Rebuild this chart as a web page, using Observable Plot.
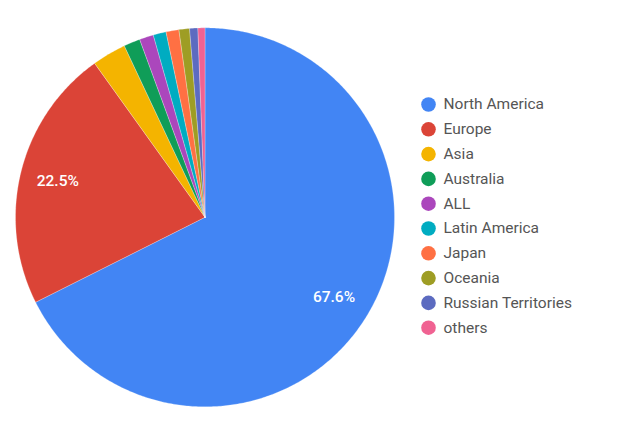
<!DOCTYPE html>
<html>
<head>
<meta charset="utf-8">
<script src="https://cdn.jsdelivr.net/npm/d3@7"></script>
<script src="https://cdn.jsdelivr.net/npm/@observablehq/plot@0.6"></script>
<style>
  html, body { margin: 0; padding: 0; background: #fff; }
  #chart { width: 640px; height: 426px; }
  svg { font-family: Roboto, "Noto Sans", sans-serif; }
</style>
</head>
<body>
<div id="chart"></div>
<script>
// Data
const regions = ["North America", "Europe", "Asia", "Australia", "ALL", "Latin America", "Japan", "Oceania", "Russian Territories", "others"];
const shares = [67.6, 22.5, 2.9, 1.4, 1.2, 1.1, 1.1, 0.9, 0.7, 0.6];
const colors = ["#4285F4", "#DB4437", "#F4B400", "#0F9D58", "#AB47BC", "#00ACC1", "#FF7043", "#9E9D24", "#5C6BC0", "#F06292"];

// Layout
const W = 640, H = 426;
const cx = 204.5, cy = 216.8, R = 189.5;
const labelR = 0.8 * R;
const legendX = 428, legendY0 = 104, legendStep = 24.8;

const rows = regions.map((name, i) => ({name, value: shares[i], i}));
const arcs = d3.pie().sort(null).value(d => d.value)(rows);

// Slice polygons
const polyPts = [];
for (const a of arcs) {
  const n = Math.max(2, Math.ceil((a.endAngle - a.startAngle) / 0.01));
  polyPts.push({name: a.data.name, x: cx, y: cy});
  for (let k = 0; k <= n; k++) {
    const t = a.startAngle + (a.endAngle - a.startAngle) * k / n;
    polyPts.push({name: a.data.name, x: cx + R * Math.sin(t), y: cy - R * Math.cos(t)});
  }
  polyPts.push({name: a.data.name, x: cx, y: cy});
}

// Labels for big slices
const labels = arcs.filter(a => a.data.value > 5).map(a => {
  const m = (a.startAngle + a.endAngle) / 2;
  return {text: a.data.value.toFixed(1) + "%", x: cx + labelR * Math.sin(m), y: cy - labelR * Math.cos(m)};
});

const legend = rows.map(d => ({name: d.name, y: legendY0 + legendStep * d.i}));

const chart = Plot.plot({
  width: W,
  height: H,
  margin: 0,
  x: {domain: [0, W], range: [0, W], axis: null},
  y: {domain: [0, H], range: [0, H], axis: null},
  color: {type: "ordinal", domain: regions, range: colors},
  marks: [
    Plot.line(polyPts, {x: "x", y: "y", z: "name", fill: "name", stroke: "white", strokeWidth: 0.25, curve: "linear"}),
    Plot.text(labels, {x: "x", y: "y", text: "text", fill: "white", fontSize: 15.5, fontWeight: 500}),
    Plot.dot(legend, {x: () => legendX, y: "y", fill: "name", r: 7.3, stroke: null}),
    Plot.text(legend, {x: () => legendX + 15, y: "y", text: "name", textAnchor: "start", fill: "#555", fontSize: 15.5})
  ]
});
document.getElementById("chart").appendChild(chart);
</script>
</body>
</html>
